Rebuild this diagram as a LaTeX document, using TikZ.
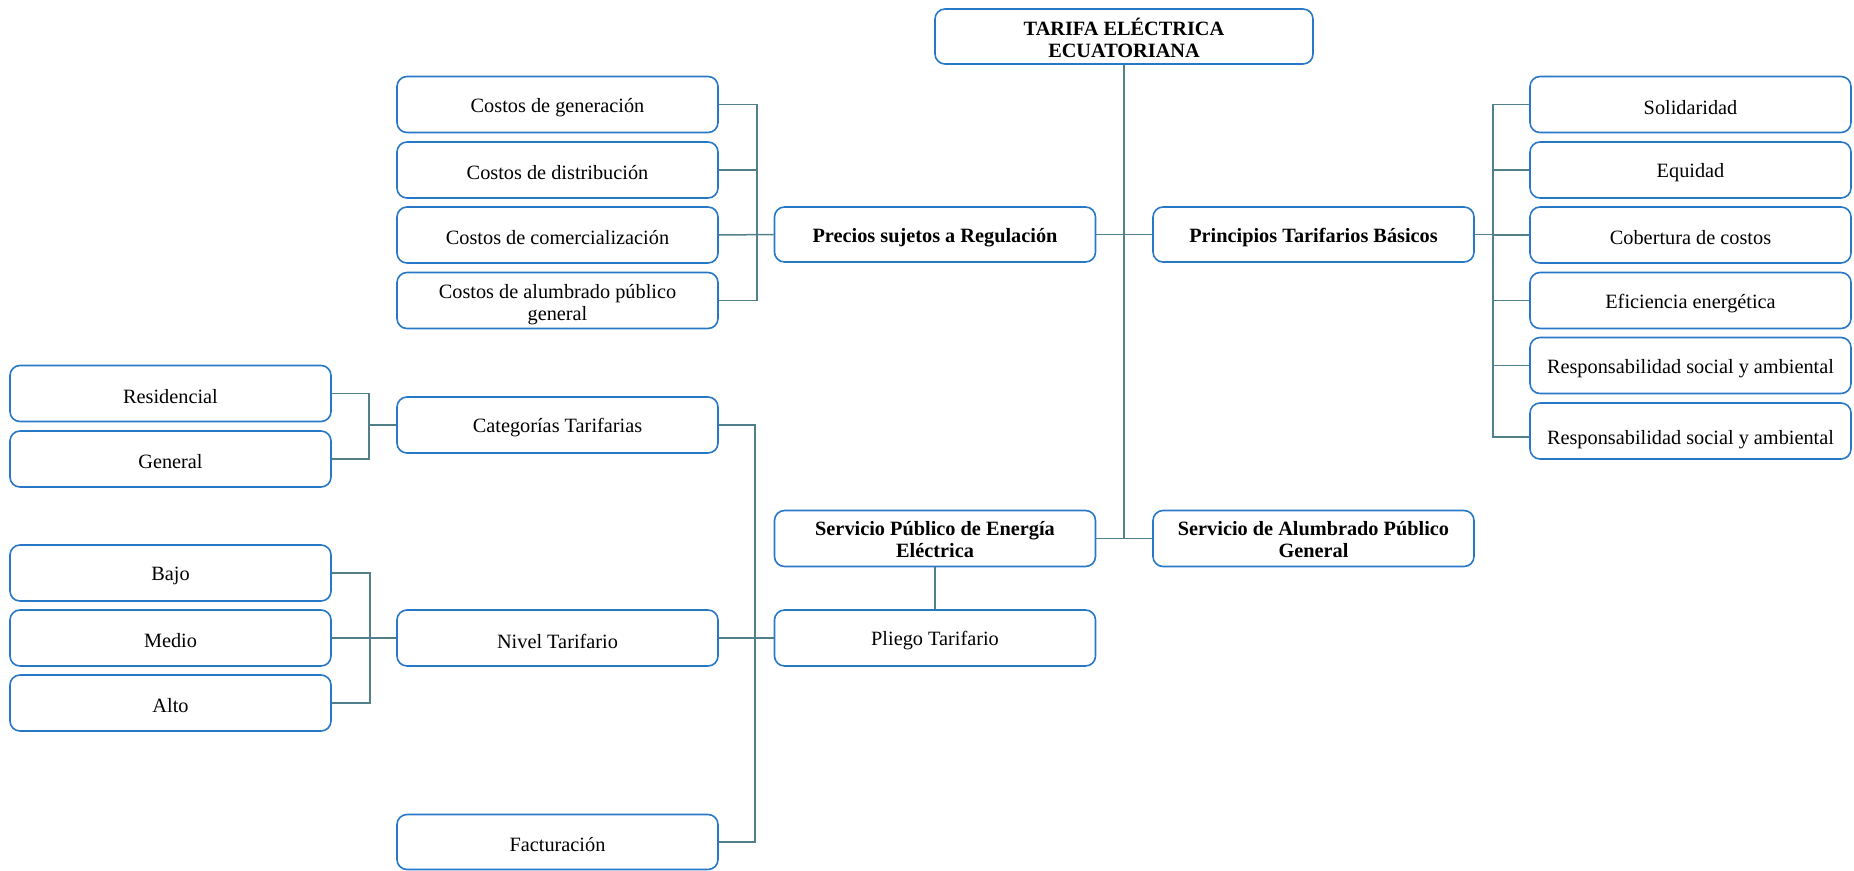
\documentclass[tikz,border=0pt]{standalone}
\usepackage{fontspec}
\setmainfont{Liberation Serif}
\definecolor{boxblue}{HTML}{2878C8}
\definecolor{linkteal}{HTML}{52808A}
\begin{document}
\begin{tikzpicture}[x=1pt,y=-1pt,
  frame/.style={draw=boxblue, line width=1.6pt, rounded corners=10pt, fill=white,
    minimum width=321pt, minimum height=56pt, inner sep=0pt},
  txt/.style={inner sep=0pt, align=center, font=\fontsize{20.3}{22}\selectfont},
  btxt/.style={txt, font=\fontsize{20.3}{22}\selectfont\bfseries},
  box/.style={frame, label={[txt, yshift=-3pt]center:#1}},
  hbox/.style={frame, label={[btxt, yshift=-3pt]center:#1}},
  hhbox/.style={frame, label={[btxt, yshift=-1.5pt]center:#1}},
  link/.style={draw=linkteal, line width=1.5pt}]
\useasboundingbox (0,0) rectangle (1854,870);

% main title
\node[hhbox={TARIFA ELÉCTRICA\\ECUATORIANA}, minimum width=378pt, minimum height=55pt] (top) at (1124,36.5) {};

% regulated prices and their cost components
\node[hbox={Precios sujetos a Regulación}, minimum height=55pt] (precios) at (935,234.5) {};
\node[box={Costos de generación}] (c1) at (557.5,104.5) {};
\node[box={Costos de distribución}] (c2) at (557.5,170) {};
\node[box={Costos de comercialización}] (c3) at (557.5,235) {};
\node[frame, label={[txt, yshift=-4pt]center:{Costos de alumbrado público\\general}}] (c4) at (557.5,300.5) {};

% basic tariff principles
\node[hbox={Principios Tarifarios Básicos}, minimum height=55pt] (principios) at (1313.5,234.5) {};
\node[box={Solidaridad}] (r1) at (1690.5,104.5) {};
\node[box={Equidad}] (r2) at (1690.5,170) {};
\node[box={Cobertura de costos}] (r3) at (1690.5,235) {};
\node[box={Eficiencia energética}] (r4) at (1690.5,300.5) {};
\node[box={Responsabilidad social y ambiental}] (r5) at (1690.5,365.5) {};
\node[frame, label={[txt, yshift=-9pt]center:Responsabilidad social y ambiental}] (r6) at (1690.5,431) {};

% public services
\node[hhbox={Servicio Público de Energía\\Eléctrica}] (spee) at (935,538.5) {};
\node[hhbox={Servicio de Alumbrado Público\\General}] (sapg) at (1313.5,538.5) {};
\node[box={Pliego Tarifario}] (pliego) at (935,638) {};

% tariff schedule components
\node[box={Categorías Tarifarias}] (cat) at (557.5,425) {};
\node[box={Nivel Tarifario}] (nivel) at (557.5,638) {};
\node[box={Facturación}, minimum height=55pt] (fact) at (557.5,842) {};

\node[box={Residencial}] (res) at (170.5,393.5) {};
\node[box={General}] (gen) at (170.5,459) {};

\node[box={Bajo}] (bajo) at (170.5,573) {};
\node[box={Medio}] (medio) at (170.5,638) {};
\node[box={Alto}] (alto) at (170.5,703) {};

% connectors: central trunk
\coordinate (trunk) at (top.south |- spee.east);
\draw[link] (top.south) -- (trunk);
\draw[link] (precios.east) -- (principios.west);
\draw[link] (spee.east) -- (sapg.west);
\draw[link] (spee.south) -- (pliego.north);

% cost bracket
\coordinate (cb) at (757,0);
\draw[link] (c1.east) -- (c1.east -| cb) -- (c4.east -| cb) -- (c4.east);
\draw[link] (c2.east) -- (c2.east -| cb);
\draw[link] (c3.east) -- (precios.west);

% principles bracket
\coordinate (pb) at (1493,0);
\coordinate (r6in) at ([yshift=-6pt]r6.west);
\draw[link] (principios.east) -- (principios.east -| pb);
\draw[link] (r1.west) -- (r1.west -| pb) -- (r6in -| pb) -- (r6in);
\foreach \n in {r2,r3,r4,r5} \draw[link] (\n.west) -- (\n.west -| pb);

% categories bracket
\coordinate (kb) at (369,0);
\draw[link] (res.east) -- (res.east -| kb) -- (gen.east -| kb) -- (gen.east);
\draw[link] (cat.west -| kb) -- (cat.west);

% level bracket
\coordinate (lb) at (370,0);
\draw[link] (bajo.east) -- (bajo.east -| lb) -- (alto.east -| lb) -- (alto.east);
\draw[link] (medio.east) -- (nivel.west);

% schedule bracket
\coordinate (sb) at (755,0);
\draw[link] (cat.east) -- (cat.east -| sb) -- (fact.east -| sb) -- (fact.east);
\draw[link] (nivel.east) -- (pliego.west);
\end{tikzpicture}
\end{document}
